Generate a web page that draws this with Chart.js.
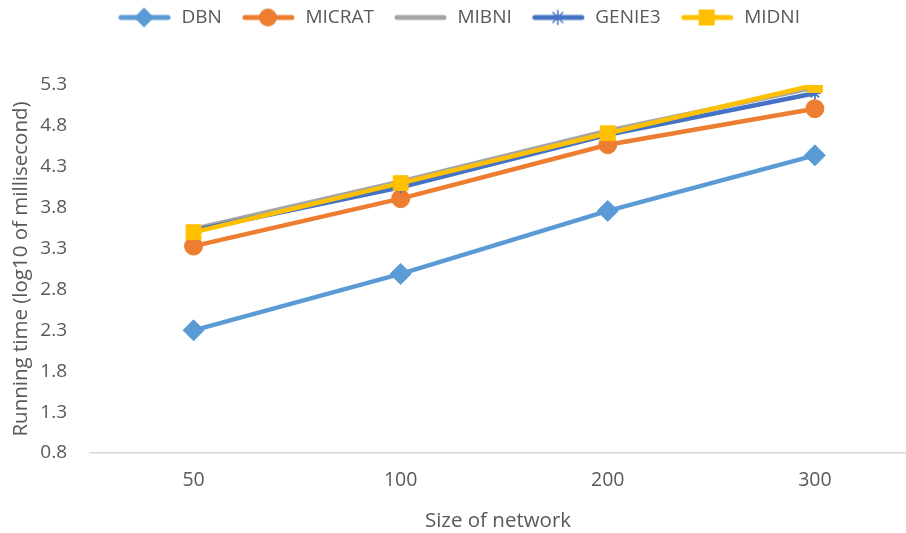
<!DOCTYPE html>
<html>
<head>
<meta charset="utf-8">
<script src="https://cdn.jsdelivr.net/npm/chart.js@4.4.1/dist/chart.umd.min.js"></script>
<style>
  html, body { margin: 0; padding: 0; background: #ffffff; overflow: hidden; }
  #wrap { width: 906px; height: 533px; }
</style>
</head>
<body>
<div id="wrap"><canvas id="c" width="906" height="533"></canvas></div>
<script>
// Network sizes on the x axis
const categories = ['50', '100', '200', '300'];
// Running time, log10 of milliseconds
const dbn    = [2.30, 2.99, 3.76, 4.44];
const micrat = [3.33, 3.91, 4.57, 5.01];
const mibni  = [3.54, 4.12, 4.74, 5.27];
const genie3 = [3.52, 4.05, 4.69, 5.20];
const midni  = [3.50, 4.10, 4.71, 5.30];
// Y axis tick labels
const yTicks = ['0.8', '1.3', '1.8', '2.3', '2.8', '3.3', '3.8', '4.3', '4.8', '5.3'];

const FONT = "'Open Sans', 'Noto Sans', sans-serif";
const TEXT = '#595959';

function points(values) {
  return values.map((v, i) => ({ x: i, y: v }));
}

// Legend glyph: a short line with the series marker in the middle
function legendGlyph(color, marker) {
  const lead = 12, len = 54, h = 22;
  const cv = document.createElement('canvas');
  cv.width = lead + len; cv.height = h;
  const g = cv.getContext('2d');
  const cy = h / 2, cx = lead + (len - 2) / 2;
  g.strokeStyle = color; g.fillStyle = color;
  g.lineWidth = 5; g.lineCap = 'round';
  g.beginPath(); g.moveTo(lead + 3, cy); g.lineTo(lead + len - 4, cy); g.stroke();
  if (marker === 'rectRot') {
    g.beginPath();
    g.moveTo(cx - 10, cy); g.lineTo(cx, cy - 10); g.lineTo(cx + 10, cy); g.lineTo(cx, cy + 10);
    g.closePath(); g.fill();
  } else if (marker === 'circle') {
    g.beginPath(); g.arc(cx, cy, 9, 0, Math.PI * 2); g.fill();
  } else if (marker === 'rect') {
    g.fillRect(cx - 8, cy - 8, 16, 16);
  } else if (marker === 'star') {
    g.lineWidth = 1.5;
    g.beginPath();
    for (let k = 0; k < 4; k++) {
      const a = k * Math.PI / 4;
      g.moveTo(cx - 7 * Math.cos(a), cy - 7 * Math.sin(a));
      g.lineTo(cx + 7 * Math.cos(a), cy + 7 * Math.sin(a));
    }
    g.stroke();
  }
  return cv;
}

const series = [
  { label: 'DBN',    data: dbn,    color: '#5B9BD5', marker: 'rectRot', radius: 10.5 },
  { label: 'MICRAT', data: micrat, color: '#ED7D31', marker: 'circle',  radius: 9 },
  { label: 'MIBNI',  data: mibni,  color: '#A5A5A5', marker: false,     radius: 0 },
  { label: 'GENIE3', data: genie3, color: '#4472C4', marker: 'star',    radius: 6 },
  { label: 'MIDNI',  data: midni,  color: '#FFC000', marker: 'rect',    radius: 10.5 }
];

// later series are painted over earlier ones
const datasets = series.map((s, i) => ({
  label: s.label,
  data: points(s.data),
  order: series.length - i,
  borderColor: s.color,
  backgroundColor: s.color,
  borderWidth: 4.5,
  tension: 0,
  pointStyle: s.marker || false,
  pointRadius: s.radius,
  pointHoverRadius: s.radius,
  pointBorderWidth: s.marker === 'star' ? 1.8 : 1,
  pointBorderColor: s.color,
  pointBackgroundColor: s.color,
  glyph: legendGlyph(s.color, s.marker)
}));

// Leave room between the legend row and the plot area
const legendGap = {
  id: 'legendGap',
  beforeInit(chart) {
    const fit = chart.legend.fit;
    chart.legend.fit = function () {
      fit.call(this);
      this.height = 85;
    };
  }
};

new Chart(document.getElementById('c'), {
  type: 'line',
  data: { datasets },
  options: {
    responsive: false,
    animation: false,
    layout: { padding: 0, autoPadding: false },
    plugins: {
      tooltip: { enabled: false },
      legend: {
        position: 'top',
        labels: {
          usePointStyle: true,
          pointStyleWidth: 66,
          padding: 8,
          color: TEXT,
          font: { family: FONT, size: 19 },
          generateLabels(chart) {
            return series.map((s, i) => ({
              text: s.label,
              fillStyle: s.color,
              strokeStyle: s.color,
              lineWidth: 0,
              pointStyle: chart.data.datasets[i].glyph,
              fontColor: TEXT,
              hidden: false,
              datasetIndex: i
            }));
          }
        }
      }
    },
    scales: {
      x: {
        type: 'linear',
        min: -0.5,
        max: 3.44,
        afterFit(scale) {
          scale.height = 80;
          scale.paddingLeft = 0;
          scale.paddingRight = 0;
        },
        afterBuildTicks(scale) {
          scale.ticks = categories.map((c, i) => ({ value: i }));
        },
        ticks: {
          autoSkip: false,
          maxRotation: 0,
          padding: 16,
          color: TEXT,
          font: { family: FONT, size: 19.5 },
          callback: (v) => categories[v]
        },
        grid: { display: false, drawTicks: false },
        border: { display: true, color: '#D9D9D9', width: 1.5 },
        title: {
          display: true,
          text: 'Size of network',
          color: TEXT,
          font: { family: FONT, size: 20.5 },
          padding: { top: 0, bottom: 0 }
        }
      },
      y: {
        type: 'linear',
        min: 0.8,
        max: 5.3,
        afterFit(scale) { scale.width = 90; },
        afterBuildTicks(scale) {
          scale.ticks = yTicks.map(t => ({ value: parseFloat(t) }));
        },
        ticks: {
          padding: 23,
          color: TEXT,
          font: { family: FONT, size: 19 },
          callback: (v) => yTicks.find(t => Math.abs(parseFloat(t) - v) < 1e-6) || ''
        },
        grid: { display: false, drawTicks: false },
        border: { display: false },
        title: {
          display: true,
          text: 'Running time (log10 of millisecond)',
          color: TEXT,
          font: { family: FONT, size: 20.5 },
          padding: { top: 9, bottom: 0 }
        }
      }
    }
  },
  plugins: [legendGap]
});
</script>
</body>
</html>
